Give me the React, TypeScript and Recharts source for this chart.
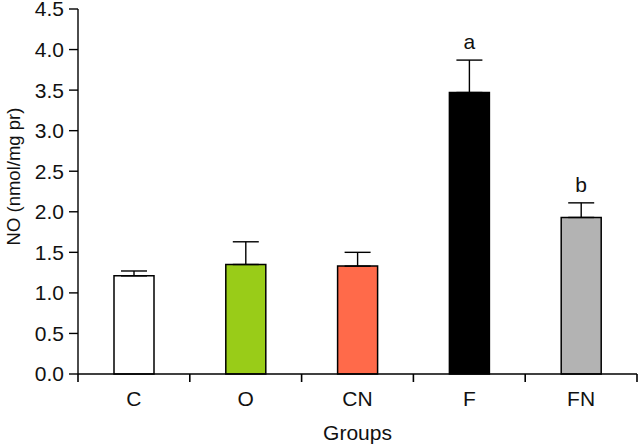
import React from "react";
import {
  BarChart,
  Bar,
  Cell,
  XAxis,
  YAxis,
  ErrorBar,
  ReferenceDot,
  Label,
} from "recharts";

const groups = ["C", "O", "CN", "F", "FN"];
const means = [1.21, 1.35, 1.33, 3.47, 1.93];
const errors = [0.06, 0.28, 0.17, 0.4, 0.18];
const letters = ["", "", "", "a", "b"];
const colors = ["#ffffff", "#99cc18", "#ff6a4a", "#000000", "#b3b3b3"];
const yTicks = [0, 0.5, 1, 1.5, 2, 2.5, 3, 3.5, 4, 4.5];

// each group sits in the middle of a unit slot on a numeric x scale,
// so the tick marks can go on the slot boundaries and the names in the middle
const data = groups.map((g, i) => ({
  pos: i + 0.5,
  group: g,
  mean: means[i],
  err: [0, errors[i]],
}));
const xTicks: number[] = [];
for (let i = 0; i <= groups.length * 2; i++) xTicks.push(i / 2);

const FONT = "'Liberation Sans', Arial, sans-serif";

function GroupTick(props: any) {
  const { x, y, payload } = props;
  const v = Number(payload.value);
  const boundary = Math.abs(v - Math.round(v)) < 1e-6;
  const name = boundary ? "" : groups[Math.floor(v)];
  return (
    <g>
      {boundary && (
        <path d={`M${x},${y}L${x},${y + 8}`} stroke="#000" strokeWidth={1.6} fill="none" />
      )}
      <text x={x} y={y + 32} textAnchor="middle" fontSize={21} fill="#111" fontFamily={FONT}>
        {name}
      </text>
    </g>
  );
}

function YTitle(props: any) {
  const vb = props.viewBox;
  const cx = vb.x + 13;
  const cy = vb.y + vb.height / 2 - 15;
  return (
    <text
      x={cx}
      y={cy}
      transform={`rotate(-90, ${cx}, ${cy})`}
      textAnchor="middle"
      dominantBaseline="central"
      fontSize={18.5}
      fill="#111"
      fontFamily={FONT}
    >
      NO (nmol/mg pr)
    </text>
  );
}

export default function App() {
  return (
    <div style={{ position: "absolute", left: 0, top: 0, background: "#fff" }}>
      <BarChart
        width={638}
        height={445}
        data={data}
        margin={{ top: 9, right: 1, bottom: 0, left: 0 }}
      >
        <XAxis
          dataKey="pos"
          type="number"
          domain={[0, 5]}
          ticks={xTicks}
          interval={0}
          height={71}
          tickLine={false}
          tickSize={0}
          tickMargin={0}
          axisLine={{ stroke: "#000", strokeWidth: 1.4 }}
          tick={<GroupTick />}
        >
          <Label
            value="Groups"
            position="insideBottom"
            offset={5}
            fontSize={21}
            fill="#111"
            fontFamily={FONT}
          />
        </XAxis>
        <YAxis
          width={78}
          domain={[0, 4.5]}
          ticks={yTicks}
          interval={0}
          tickSize={9}
          tickMargin={5}
          tickFormatter={(v: number) => v.toFixed(1)}
          tick={{ fontSize: 21, fill: "#111", fontFamily: FONT }}
          tickLine={{ stroke: "#000", strokeWidth: 1.4 }}
          axisLine={{ stroke: "#000", strokeWidth: 1.4 }}
          label={<YTitle />}
        />
        <Bar dataKey="mean" barSize={40} stroke="#000" strokeWidth={1.5} isAnimationActive={false}>
          {groups.map((g, i) => (
            <Cell key={g} fill={colors[i]} />
          ))}
          <ErrorBar dataKey="err" width={13} stroke="#000" strokeWidth={1.4} isAnimationActive={false} />
        </Bar>
        {groups.map((g, i) =>
          letters[i] ? (
            <ReferenceDot
              key={g}
              x={i + 0.5}
              y={means[i] + errors[i]}
              r={0}
              stroke="none"
              fill="none"
              label={{
                value: letters[i],
                position: "top",
                offset: 11,
                fontSize: 21,
                fill: "#111",
                fontFamily: FONT,
              }}
            />
          ) : null
        )}
      </BarChart>
    </div>
  );
}
